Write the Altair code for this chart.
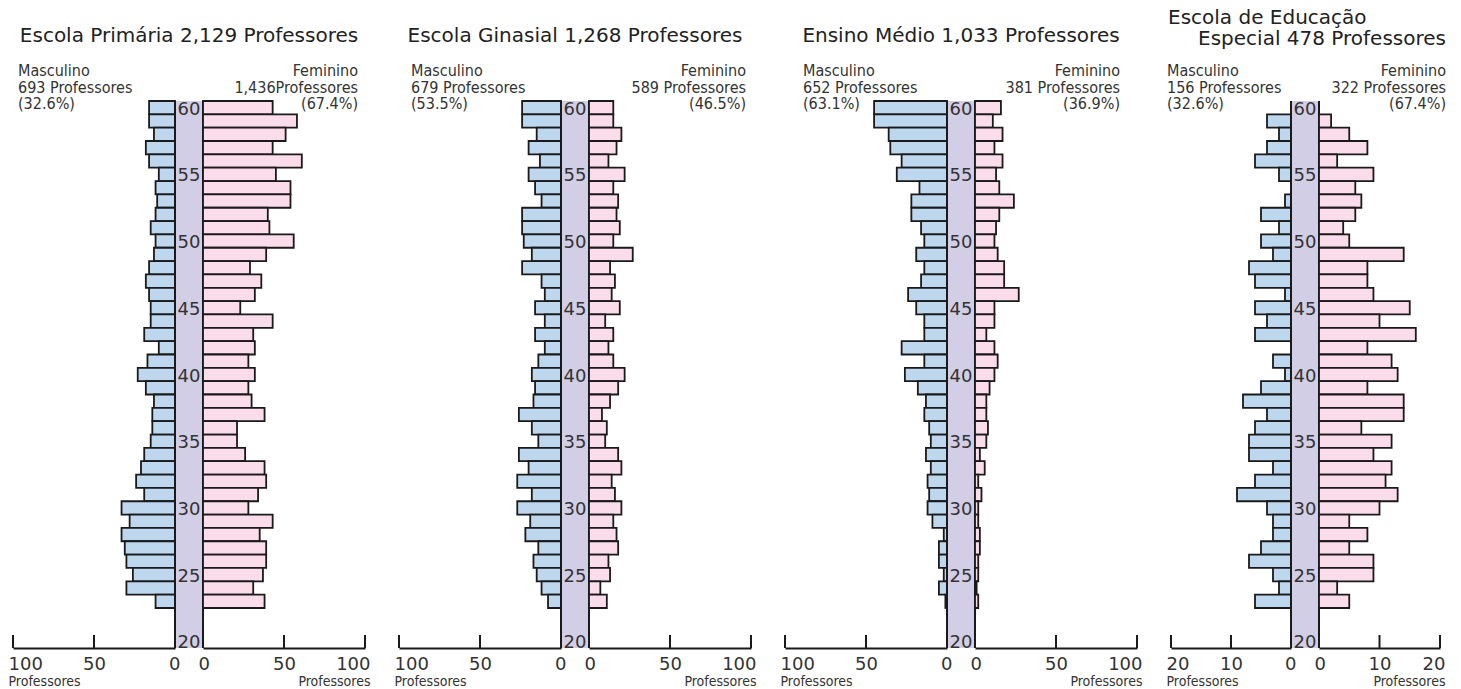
import altair as alt
import pandas as pd

# ---------------- data ----------------
AGES = list(range(60, 22, -1))  # 60 .. 23 (one bar per age)
AGE_LABELS = [20, 25, 30, 35, 40, 45, 50, 55, 60]

P1_MALE = [16, 16, 13, 18, 16, 10, 12, 11, 12, 15, 12, 13, 16, 18, 16, 15, 15, 19, 10, 17,
           23, 18, 13, 14, 14, 15, 19, 21, 24, 19, 33, 28, 33, 31, 30, 26, 30, 12]
P1_FEMALE = [43, 58, 51, 43, 61, 45, 54, 54, 40, 41, 56, 39, 29, 36, 32, 23, 43, 31, 32, 28,
             32, 28, 30, 38, 21, 21, 26, 38, 39, 34, 28, 43, 35, 39, 39, 37, 31, 38]
P2_MALE = [24, 24, 15, 20, 13, 20, 16, 12, 24, 24, 23, 18, 24, 12, 10, 16, 10, 16, 10, 14,
           18, 16, 17, 26, 18, 14, 26, 20, 27, 18, 27, 19, 22, 14, 17, 15, 12, 8]
P2_FEMALE = [15, 15, 20, 17, 12, 22, 15, 18, 17, 19, 15, 27, 13, 16, 14, 19, 10, 15, 12, 15,
             22, 18, 13, 8, 11, 10, 18, 20, 14, 16, 20, 15, 17, 18, 12, 13, 7, 11]
P3_MALE = [45, 45, 36, 35, 28, 31, 17, 22, 22, 16, 14, 19, 14, 16, 24, 19, 14, 14, 28, 14,
           26, 18, 13, 14, 11, 10, 13, 10, 12, 11, 12, 9, 2, 5, 5, 2, 5, 1]
P3_FEMALE = [16, 11, 17, 12, 17, 13, 15, 24, 15, 13, 12, 14, 18, 18, 27, 12, 12, 7, 12, 14,
             12, 9, 7, 7, 8, 7, 3, 6, 2, 4, 2, 2, 3, 3, 2, 2, 1, 2]
P4_MALE = [0, 4, 2, 4, 6, 2, 0, 1, 5, 2, 5, 3, 7, 6, 1, 6, 4, 6, 0, 3,
           1, 5, 8, 4, 6, 7, 7, 3, 6, 9, 4, 3, 3, 5, 7, 3, 2, 6]
P4_FEMALE = [0, 2, 5, 8, 3, 9, 6, 7, 6, 4, 5, 14, 8, 8, 9, 15, 10, 16, 8, 12,
             13, 8, 14, 14, 7, 12, 9, 12, 11, 13, 10, 5, 8, 5, 9, 9, 3, 5]

TITLES = ["Escola Primária 2,129 Professores",
          "Escola Ginasial 1,268 Professores",
          "Ensino Médio 1,033 Professores",
          ["Escola de Educação", "Especial 478 Professores"]]
MALE_HEADERS = ["Masculino\n693 Professores\n(32.6%)",
                "Masculino\n679 Professores\n(53.5%)",
                "Masculino\n652 Professores\n(63.1%)",
                "Masculino\n156 Professores\n(32.6%)"]
FEMALE_HEADERS = ["Feminino\n1,436Professores\n(67.4%)",
                  "Feminino\n589 Professores\n(46.5%)",
                  "Feminino\n381 Professores\n(36.9%)",
                  "Feminino\n322 Professores\n(67.4%)"]
AXIS_MAX = [100, 100, 100, 20]
AXIS_TITLE = "Professores"

# ---------------- style ----------------
BLUE = "#bdd7ee"
PINK = "#fadcea"
BAND = "#d2cee6"
INK = "#1a1a1a"
TXT = "#333333"
H = 547
BAND_W = 28
GAP = 34
Y_DOMAIN = [19.5, 60.5]
NARROW = "Liberation Sans Narrow, DejaVu Sans Condensed, Arial Narrow, sans-serif"
WIDE = "DejaVu Sans"

ys = alt.Scale(domain=Y_DOMAIN, nice=False, zero=False)


def half_chart(vals, side, w, maxv, header, hx):
    df = pd.DataFrame({"age": AGES, "v": vals})
    left = side == "L"
    xs = alt.Scale(domain=[0, maxv], reverse=left, nice=False, zero=False)
    axis = alt.Axis(values=[0, maxv // 2, maxv], format="d", ticks=False, grid=False,
                    domainColor=INK, domainWidth=2,
                    labelFont=WIDE, labelFontSize=18, labelColor=TXT,
                    labelFlush=True, labelFlushOffset=5, labelPadding=7,
                    title=AXIS_TITLE, titleFont=NARROW, titleFontSize=14,
                    titleFontWeight="normal", titleColor=TXT,
                    titleX=(-5 if left else w + 5), titleY=37,
                    titleAlign=("left" if left else "right"), titleBaseline="alphabetic")
    bars = alt.Chart(df).transform_calculate(
        lo="datum.age - 0.5", hi="datum.age + 0.5"
    ).mark_rect(fill=BLUE if left else PINK, stroke=INK, strokeWidth=1.8).encode(
        x=alt.X("v:Q", scale=xs, axis=axis),
        x2=alt.datum(0),
        y=alt.Y("lo:Q", scale=ys, axis=None),
        y2="hi:Q",
    )
    ticks = alt.Chart(pd.DataFrame({"t": [maxv // 2, maxv]})).mark_rule(
        color=INK, strokeWidth=2
    ).encode(x=alt.X("t:Q", scale=xs), y=alt.value(H - 13), y2=alt.value(H))
    hdr = alt.Chart(pd.DataFrame({"t": [header]})).mark_text(
        align="left" if left else "right", baseline="alphabetic", lineBreak="\n",
        lineHeight=16.5, font=NARROW, fontSize=16, color=TXT
    ).encode(text="t:N", x=alt.value(hx), y=alt.value(-25))
    return alt.layer(bars, ticks, hdr).properties(width=w, height=H)


def mid_chart(title, four=False):
    band = alt.Chart(pd.DataFrame({"a": [0]})).mark_rect(fill=BAND).encode(
        x=alt.value(0), x2=alt.value(BAND_W), y=alt.value(0), y2=alt.value(H))
    borders = alt.Chart(pd.DataFrame({"bx": [0, BAND_W]})).mark_rule(
        color=INK, strokeWidth=2).encode(
        x=alt.X("bx:Q", scale=alt.Scale(domain=[0, BAND_W], nice=False), axis=None),
        y=alt.value(0), y2=alt.value(H))
    ages = alt.Chart(pd.DataFrame({"age": AGE_LABELS})).mark_text(
        font=WIDE, fontSize=18, color=TXT, align="center", baseline="middle", dy=2
    ).encode(text="age:Q", x=alt.value(BAND_W / 2),
             y=alt.Y("age:Q", scale=ys, axis=None))
    layers = [band, borders, ages]
    if four:
        t1 = alt.Chart(pd.DataFrame({"t": [title[0]]})).mark_text(
            align="left", baseline="alphabetic", font=WIDE, fontSize=20, color="#222222"
        ).encode(text="t:N", x=alt.value(-123), y=alt.value(-76.7))
        t2 = alt.Chart(pd.DataFrame({"t": [title[1]]})).mark_text(
            align="right", baseline="alphabetic", font=WIDE, fontSize=20, color="#222222"
        ).encode(text="t:N", x=alt.value(155), y=alt.value(-55.7))
        layers += [t1, t2]
    else:
        t = alt.Chart(pd.DataFrame({"t": [title]})).mark_text(
            align="center", baseline="alphabetic", font=WIDE, fontSize=20, color="#222222"
        ).encode(text="t:N", x=alt.value(BAND_W / 2), y=alt.value(-58.7))
        layers.append(t)
    return alt.layer(*layers).properties(width=BAND_W, height=H)


def spacer():
    return alt.Chart(pd.DataFrame({"a": [0]})).mark_point(opacity=0).encode(
        x=alt.value(0), y=alt.value(0)).properties(width=GAP, height=H)


MALES = [P1_MALE, P2_MALE, P3_MALE, P4_MALE]
FEMALES = [P1_FEMALE, P2_FEMALE, P3_FEMALE, P4_FEMALE]
HALF_W = [162, 162, 162, 120]
RIGHT_W = [162, 162, 162, 121]
MALE_HX = [5, 12, 18, -4]
FEMALE_HX = [155, 157, 145, 127]

items = []
for i in range(4):
    if i > 0:
        items.append(spacer())
    items.append(half_chart(MALES[i], "L", HALF_W[i], AXIS_MAX[i], MALE_HEADERS[i], MALE_HX[i]))
    items.append(mid_chart(TITLES[i], four=(i == 3)))
    items.append(half_chart(FEMALES[i], "R", RIGHT_W[i], AXIS_MAX[i], FEMALE_HEADERS[i], FEMALE_HX[i]))

chart = alt.hconcat(*items, spacing=0, bounds="flush").configure_view(
    stroke=None
).properties(
    padding={"left": 0, "top": 0, "right": 5, "bottom": 5},
    background="white",
)

chart.save("out.html", embed_options={"renderer": "svg", "actions": False})
